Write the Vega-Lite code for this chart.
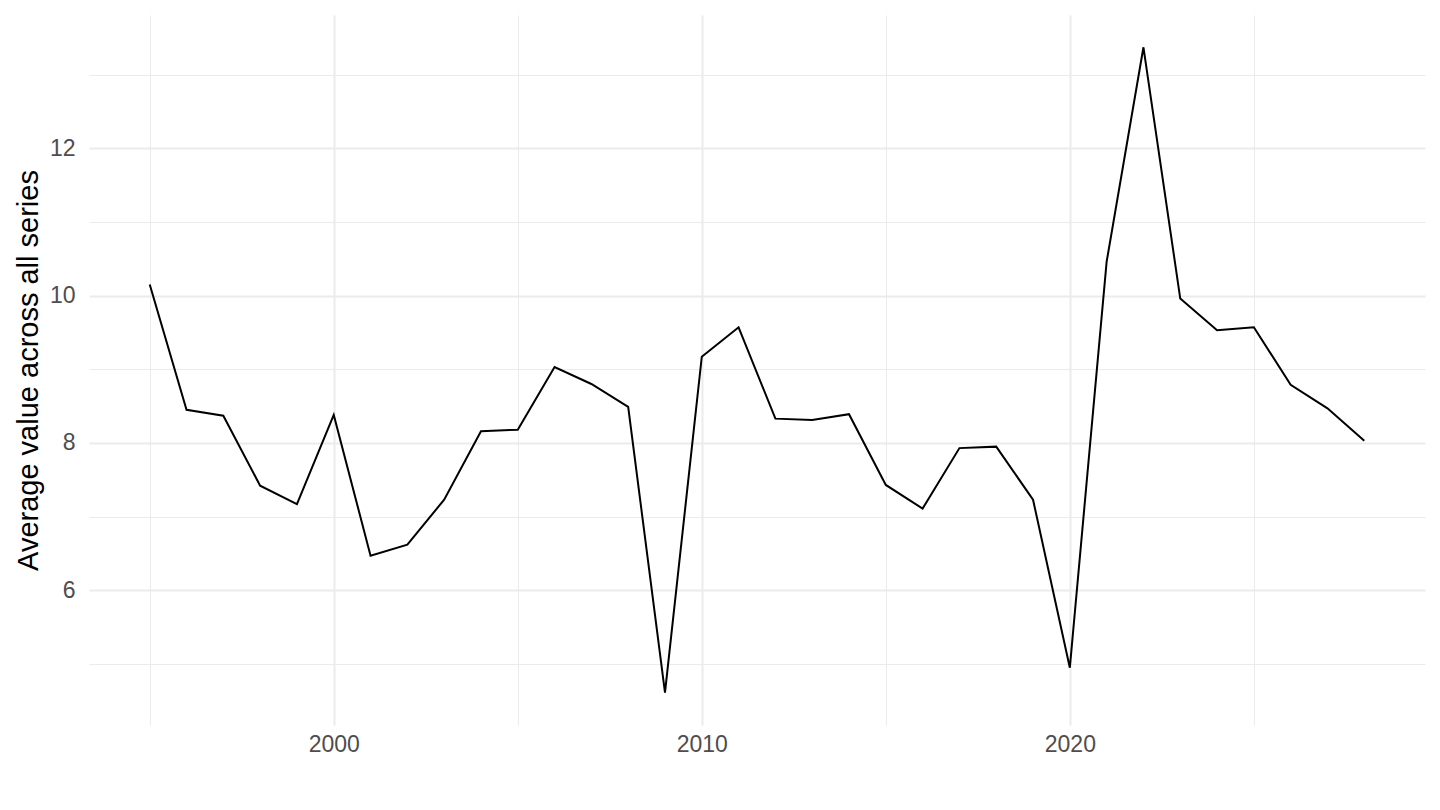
{
  "$schema": "https://vega.github.io/schema/vega-lite/v6.json",
  "autosize": "none",
  "width": 1336,
  "height": 710,
  "padding": {"left": 89, "top": 15, "right": 15, "bottom": 85},
  "background": "white",
  "config": {
    "view": {"stroke": null},
    "font": "Liberation Sans"
  },
  "data": {
    "values": [
      {"year": 1995, "value": 10.15},
      {"year": 1996, "value": 8.45},
      {"year": 1997, "value": 8.37},
      {"year": 1998, "value": 7.42},
      {"year": 1999, "value": 7.17},
      {"year": 2000, "value": 8.38},
      {"year": 2001, "value": 6.47},
      {"year": 2002, "value": 6.62},
      {"year": 2003, "value": 7.23},
      {"year": 2004, "value": 8.16},
      {"year": 2005, "value": 8.18},
      {"year": 2006, "value": 9.03},
      {"year": 2007, "value": 8.8},
      {"year": 2008, "value": 8.49},
      {"year": 2009, "value": 4.61},
      {"year": 2010, "value": 9.17},
      {"year": 2011, "value": 9.57},
      {"year": 2012, "value": 8.33},
      {"year": 2013, "value": 8.31},
      {"year": 2014, "value": 8.39},
      {"year": 2015, "value": 7.43},
      {"year": 2016, "value": 7.11},
      {"year": 2017, "value": 7.93},
      {"year": 2018, "value": 7.95},
      {"year": 2019, "value": 7.23},
      {"year": 2020, "value": 4.95},
      {"year": 2021, "value": 10.46},
      {"year": 2022, "value": 13.37},
      {"year": 2023, "value": 9.96},
      {"year": 2024, "value": 9.53},
      {"year": 2025, "value": 9.57},
      {"year": 2026, "value": 8.79},
      {"year": 2027, "value": 8.47},
      {"year": 2028, "value": 8.03}
    ]
  },
  "mark": {"type": "line", "color": "black", "strokeWidth": 2},
  "encoding": {
    "x": {
      "field": "year",
      "type": "quantitative",
      "scale": {"domain": [1993.35, 2029.65], "nice": false, "zero": false},
      "axis": {
        "title": null,
        "values": [1995, 2000, 2005, 2010, 2015, 2020, 2025],
        "format": "d",
        "labelExpr": "datum.value % 10 === 0 ? datum.label : ''",
        "domain": false,
        "ticks": false,
        "labelPadding": 8,
        "labelFontSize": 23,
        "labelColor": "#4D4D4D",
        "gridColor": "#EBEBEB",
        "gridWidth": {"condition": {"test": "datum.value % 10 === 0", "value": 2}, "value": 1}
      }
    },
    "y": {
      "field": "value",
      "type": "quantitative",
      "scale": {"domain": [4.172, 13.808], "nice": false, "zero": false},
      "axis": {
        "title": "Average value across all series",
        "values": [5, 6, 7, 8, 9, 10, 11, 12, 13],
        "format": "d",
        "labelExpr": "datum.value % 2 === 0 ? datum.label : ''",
        "domain": false,
        "ticks": false,
        "labelPadding": 14,
        "labelFontSize": 23,
        "labelColor": "#4D4D4D",
        "titleFontSize": 29,
        "titleFontWeight": "normal",
        "titleColor": "black",
        "titlePadding": 6,
        "gridColor": "#EBEBEB",
        "gridWidth": {"condition": {"test": "datum.value % 2 === 0", "value": 2}, "value": 1}
      }
    }
  }
}
